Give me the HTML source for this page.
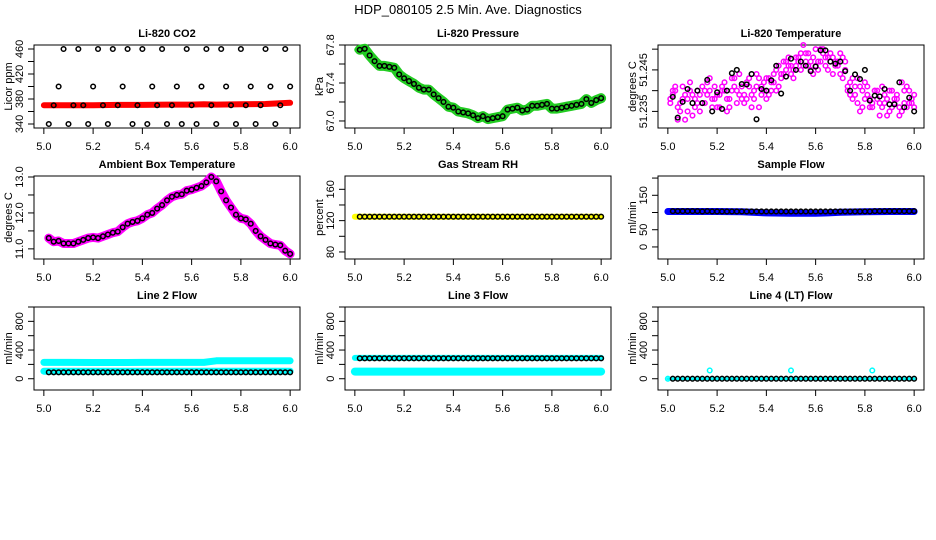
<!DOCTYPE html>
<html><head><meta charset="utf-8"><style>
html,body{margin:0;padding:0;background:#fff;}
svg{display:block;font-family:"Liberation Sans",Arial,sans-serif;}
</style></head><body>
<svg id="chart" width="936" height="540" viewBox="0 0 936 540" xmlns="http://www.w3.org/2000/svg">
<rect width="936" height="540" fill="#fff"/>
<text x="468" y="14" text-anchor="middle" font-size="13">HDP_080105  2.5 Min. Ave. Diagnostics</text>
</svg>
<script>
const T=[5.02,5.04,5.06,5.08,5.10,5.12,5.14,5.16,5.18,5.20,5.22,5.24,5.26,5.28,5.30,5.32,5.34,5.36,5.38,5.40,5.42,5.44,5.46,5.48,5.50,5.52,5.54,5.56,5.58,5.60,5.62,5.64,5.66,5.68,5.70,5.72,5.74,5.76,5.78,5.80,5.82,5.84,5.86,5.88,5.90,5.92,5.94,5.96,5.98,6.00];
const TM=[5.01,5.03,5.05,5.07,5.09,5.11,5.13,5.15,5.17,5.19,5.21,5.23,5.25,5.27,5.29,5.31,5.33,5.35,5.37,5.39,5.41,5.43,5.45,5.47,5.49,5.51,5.53,5.55,5.57,5.59,5.61,5.63,5.65,5.67,5.69,5.71,5.73,5.75,5.77,5.79,5.81,5.83,5.85,5.87,5.89,5.91,5.93,5.95,5.97,5.99];
const xTicks=[5.0,5.2,5.4,5.6,5.8,6.0];
const xTickLabels=["5.0","5.2","5.4","5.6","5.8","6.0"];
const bandX=[5.0,5.1,5.2,5.3,5.4,5.5,5.6,5.65,5.7,5.8,5.9,6.0];
const co2Black=[340,370,400,460,340,370,460,370,340,400,460,370,340,460,370,400,460,340,370,460,340,400,370,460,340,370,400,340,460,370,340,400,460,370,340,460,400,370,340,460,370,400,340,370,460,400,340,370,460,400];
const co2Red=[370,370,370,370.5,370.5,371,371,371.5,371,371.5,372,374,374];
const presBlack=[67.75,67.76,67.69,67.63,67.58,67.58,67.57,67.56,67.49,67.45,67.42,67.39,67.35,67.33,67.33,67.28,67.24,67.20,67.15,67.14,67.10,67.09,67.08,67.06,67.03,67.05,67.02,67.03,67.04,67.05,67.12,67.13,67.14,67.11,67.12,67.16,67.16,67.17,67.18,67.13,67.13,67.14,67.15,67.16,67.17,67.18,67.23,67.19,67.22,67.24];
const tempBlack=[51.2385,51.2335,51.2373,51.2404,51.237,51.240,51.237,51.2426,51.235,51.2396,51.2356,51.240,51.2442,51.245,51.2416,51.2415,51.244,51.2331,51.2404,51.240,51.2425,51.246,51.2393,51.2434,51.2477,51.245,51.247,51.246,51.2447,51.2458,51.2497,51.2497,51.247,51.2465,51.247,51.2447,51.240,51.2439,51.2428,51.245,51.2376,51.2388,51.2386,51.2404,51.2367,51.2367,51.242,51.236,51.2383,51.235];
const magA=[51.239,51.236,51.241,51.238,51.234,51.240,51.237,51.242,51.236,51.239,51.241,51.238,51.243,51.240,51.238,51.242,51.239,51.244,51.241,51.243,51.240,51.245,51.244,51.247,51.246,51.248,51.245,51.249,51.247,51.246,51.250,51.248,51.247,51.246,51.249,51.245,51.242,51.239,51.241,51.238,51.236,51.240,51.237,51.239,51.235,51.238,51.236,51.240,51.237,51.239];
const magB=[51.237,51.240,51.235,51.239,51.242,51.236,51.239,51.237,51.240,51.241,51.236,51.240,51.238,51.241,51.244,51.239,51.241,51.238,51.243,51.240,51.243,51.242,51.246,51.244,51.248,51.245,51.247,51.246,51.249,51.244,51.247,51.249,51.245,51.248,51.246,51.243,51.240,51.243,51.237,51.240,51.239,51.236,51.238,51.241,51.238,51.236,51.239,51.242,51.236,51.238];
const magC=[51.240,51.233,51.238,51.235,51.239,51.237,51.241,51.239,51.238,51.236,51.240,51.235,51.240,51.237,51.241,51.238,51.236,51.241,51.239,51.238,51.242,51.240,51.243,51.245,51.244,51.246,51.249,51.247,51.245,51.250,51.247,51.246,51.249,51.247,51.244,51.247,51.239,51.241,51.235,51.242,51.238,51.240,51.234,51.237,51.240,51.237,51.234,51.237,51.240,51.236];
const magD=[51.238,51.241,51.237,51.233,51.240,51.238,51.235,51.240,51.243,51.238,51.239,51.242,51.236,51.243,51.239,51.237,51.243,51.240,51.236,51.242,51.239,51.244,51.241,51.247,51.246,51.243,51.248,51.251,51.246,51.248,51.245,51.250,51.248,51.244,51.247,51.248,51.241,51.238,51.243,51.236,51.241,51.237,51.240,51.236,51.234,51.240,51.238,51.235,51.241,51.237];
const ambBlack=[11.3,11.2,11.22,11.15,11.15,11.15,11.2,11.25,11.3,11.32,11.3,11.35,11.4,11.45,11.48,11.6,11.7,11.75,11.78,11.85,11.95,12.0,12.12,12.22,12.35,12.45,12.5,12.52,12.62,12.65,12.7,12.75,12.85,13.0,12.88,12.6,12.35,12.15,11.95,11.85,11.82,11.7,11.5,11.35,11.25,11.15,11.12,11.1,10.95,10.86];
const rhBlack=[125,125,125,125,125,125,125,125,125,125,125,125,125,125,125,125,125,125,125,125,125,125,125,125,125,125,125,125,125,125,125,125,125,125,125,125,125,125,125,125,125,125,125,125,125,125,125,125,125,125];
const rhYellow=[125,125,125,125,125,125,125,125,125,125,125,125];
const sfBlack=[104,104,104,104,104,104,103,104,103,103,103,103,103,103,103,103,103,103,103,103,103,103,103,103,103,103,103,103,103,103,103,103,103,103,103,103,103,103,103,103,103,104,104,104,104,104,104,104,104,104];
const sfBlue=[103,103,103,102,99,98,98,99,101,102,103,103];
const l2Black=[90,90,90,90,90,90,90,90,90,90,90,90,90,90,90,90,90,90,90,90,90,90,90,90,90,90,90,90,90,90,90,90,90,90,90,90,90,90,90,90,90,90,90,90,90,90,90,90,90,90];
const l2CyanHi=[228,228,226,226,228,228,228,228,250,250,250,250];
const l2CyanLo=[105,105,105,105,105,105,105,105,105,105,105,105];
const l3Black=[285,285,285,285,285,285,285,285,285,285,285,285,285,285,285,285,285,285,285,285,285,285,285,285,285,285,285,285,285,285,285,285,285,285,285,285,285,285,285,285,285,285,285,285,285,285,285,285,285,285];
const l3CyanHi=[290,290,290,290,290,290,290,290,290,290,290,290];
const l3CyanLo=[100,100,100,100,100,100,100,100,100,100,100,100];
const l4Black=[0,0,0,0,0,0,0,0,0,0,0,0,0,0,0,0,0,0,0,0,0,0,0,0,0,0,0,0,0,0,0,0,0,0,0,0,0,0,0,0,0,0,0,0,0,0,0,0,0,0];
const l4CyanX=[5.0,5.17,5.5,5.83];
const l4CyanY=[0,115,115,115];
const l4CyanBand=[0,0,0,0,0,0,0,0,0,0,0,0];

const NS='http://www.w3.org/2000/svg';
const svg=document.getElementById('chart');
function mk(parent,tag,attrs,name,text){
  const e=document.createElementNS(NS,tag);
  for(const k in attrs) e.setAttribute(k,attrs[k]);
  
  
  if(text!==undefined) e.textContent=text;
  parent.appendChild(e);
  return e;
}
const colX=[34,345,658], rowY=[45,176,307], W=266, H=83;
function panel(c,r,title,ylab,ylim,yTicks,yLabels){
  const x0=colX[c], y0=rowY[r];
  const g=mk(svg,'g',{},'panel-'+title.toLowerCase().replace(/[^a-z0-9]+/g,'-'));
  const sx=v=>x0+(v-4.96)/1.08*W;
  const sy=v=>y0+H-(v-ylim[0])/(ylim[1]-ylim[0])*H;
  mk(g,'text',{x:x0+W/2,y:y0-8,'text-anchor':'middle','font-size':11,'font-weight':'bold'},'panel-title',title);
  mk(g,'rect',{x:x0,y:y0,width:W,height:H,fill:'none',stroke:'#000','stroke-width':1},'plot-box');
  const yb=y0+H;
  mk(g,'line',{x1:sx(xTicks[0]),x2:sx(xTicks[xTicks.length-1]),y1:yb,y2:yb,stroke:'#000'},'x-axis-line');
  xTicks.forEach((t,i)=>{
    mk(g,'line',{x1:sx(t),x2:sx(t),y1:yb,y2:yb+6,stroke:'#000'},'x-tick');
    mk(g,'text',{x:sx(t),y:yb+22,'text-anchor':'middle','font-size':11},'x-tick-label',xTickLabels[i]);
  });
  mk(g,'line',{x1:x0,x2:x0,y1:sy(yTicks[0]),y2:sy(yTicks[yTicks.length-1]),stroke:'#000'},'y-axis-line');
  yTicks.forEach(t=>{
    mk(g,'line',{x1:x0-6,x2:x0,y1:sy(t),y2:sy(t),stroke:'#000'},'y-tick');
  });
  yLabels.forEach(l=>{
    const yy=sy(parseFloat(l));
    mk(g,'text',{x:0,y:0,transform:`translate(${x0-11},${yy}) rotate(-90)`,'text-anchor':'middle','font-size':11},'y-tick-label',l);
  });
  mk(g,'text',{x:0,y:0,transform:`translate(${x0-22},${y0+H/2}) rotate(-90)`,'text-anchor':'middle','font-size':11},'y-axis-title',ylab);
  const clip=mk(g,'g',{},'series-layer');
  return {g:clip,sx,sy};
}
function band(p,xs,ys,color,w,name){
  const pts=xs.map((x,i)=>p.sx(x).toFixed(1)+','+p.sy(ys[i]).toFixed(1)).join(' ');
  mk(p.g,'polyline',{points:pts,fill:'none',stroke:color,'stroke-width':w,'stroke-linecap':'round','stroke-linejoin':'round'},name);
}
function circles(p,xs,ys,color,name){
  xs.forEach((x,i)=>{
    mk(p.g,'circle',{cx:p.sx(x),cy:p.sy(ys[i]),r:2.3,fill:'none',stroke:color,'stroke-width':1.5},name);
  });
}
let p=panel(0,0,'Li-820 CO2','Licor ppm',[333.6,466.4],[340,360,380,400,420,440,460],['340','380','420','460']);
band(p,bandX.concat([6.0]),co2Red,'#ff0000',6,'co2-red-series');
circles(p,T,co2Black,'#000','co2-black-point');
p=panel(1,0,'Li-820 Pressure','kPa',[66.926,67.8],[67.0,67.2,67.4,67.6,67.8],['67.0','67.4','67.8']);
band(p,T,presBlack,'#22cc22',10,'pressure-green-series');
circles(p,TM,presBlack,'#22cc22','pressure-green-point');
circles(p,T,presBlack,'#000','pressure-black-point');
p=panel(2,0,'Li-820 Temperature','degrees C',[51.231,51.251],[51.235,51.24,51.245,51.25],['51.235','51.245']);
circles(p,T,magA,'#ff00ff','temp-magenta-point');
circles(p,TM,magB,'#ff00ff','temp-magenta-point');
circles(p,T,magC,'#ff00ff','temp-magenta-point');
circles(p,TM,magD,'#ff00ff','temp-magenta-point');
circles(p,T,tempBlack,'#000','temp-black-point');
p=panel(0,1,'Ambient Box Temperature','degrees C',[10.718,13.028],[11.0,11.5,12.0,12.5,13.0],['11.0','12.0','13.0']);
band(p,T,ambBlack,'#ff00ff',9,'ambient-magenta-series');
circles(p,T,ambBlack,'#000','ambient-black-point');
p=panel(1,1,'Gas Stream RH','percent',[71,177],[80,100,120,140,160],['80','120','160']);
band(p,bandX,rhYellow,'#ffff00',6,'rh-yellow-series');
circles(p,T,rhBlack,'#000','rh-black-point');
p=panel(2,1,'Sample Flow','ml/min',[-35,206],[0,50,100,150,200],['0','50','150']);
band(p,bandX,sfBlue,'#0000ff',7,'sample-flow-blue-series');
circles(p,T,sfBlack,'#000','sample-flow-black-point');
p=panel(0,2,'Line 2 Flow','ml/min',[-157,1000],[0,200,400,600,800,1000],['0','400','800']);
band(p,bandX,l2CyanHi,'#00ffff',7,'line2-cyan-high-series');
band(p,bandX,l2CyanLo,'#00ffff',7,'line2-cyan-low-series');
circles(p,T,l2Black,'#000','line2-black-point');
p=panel(1,2,'Line 3 Flow','ml/min',[-157,1000],[0,200,400,600,800,1000],['0','400','800']);
band(p,bandX,l3CyanHi,'#00ffff',6,'line3-cyan-high-series');
band(p,bandX,l3CyanLo,'#00ffff',8,'line3-cyan-low-series');
circles(p,T,l3Black,'#000','line3-black-point');
p=panel(2,2,'Line 4 (LT) Flow','ml/min',[-157,1000],[0,200,400,600,800,1000],['0','400','800']);
band(p,bandX,l4CyanBand,'#00ffff',3,'line4-cyan-series');
circles(p,l4CyanX,l4CyanY,'#00ffff','line4-cyan-point');
circles(p,T,l4Black,'#000','line4-black-point');
</script>
</body></html>
